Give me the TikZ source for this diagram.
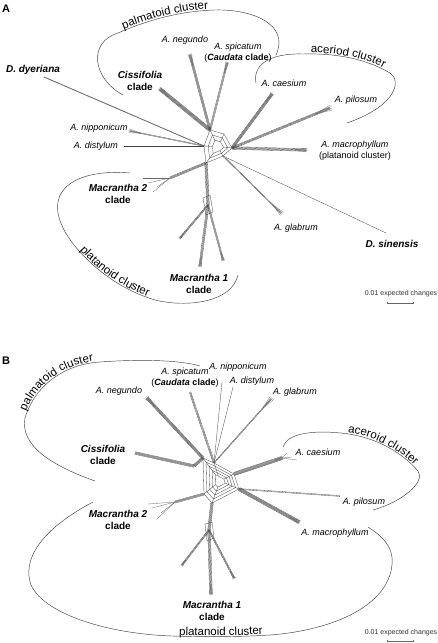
\documentclass[tikz,border=0pt]{standalone}
\usepackage{fontspec}
\setmainfont{Liberation Sans}
\usetikzlibrary{calc}
\usetikzlibrary{arrows.meta}
\usetikzlibrary{decorations.text}

\tikzset{
  split/.style={draw=black!75, line width=0.3pt},
  hull/.style={draw=black!75, line width=0.45pt},
  taxon/.style={font=\fontsize{9}{11}\selectfont\itshape, inner sep=0pt},
  clade/.style={font=\fontsize{10}{12}\selectfont\bfseries, align=center, inner sep=0pt},
  panel/.style={font=\fontsize{11}{13}\selectfont\bfseries, inner sep=0pt},
  scaletxt/.style={font=\fontsize{7}{8}\selectfont, text=black!80, inner sep=0pt},
  scalebar/.style={draw=black!60, line width=0.4pt, {Bar[width=2pt]}-{Bar[width=2pt]}},
}

\begin{document}
\begin{tikzpicture}[x=1pt, y=-1pt]
  \fill[white] (0,0) rectangle (438,643);
  \useasboundingbox (0,0) rectangle (438,643);

  % ---------------- network A ----------------
  \node[panel] (panelA) at (6,9) {A};

  \coordinate (aU) at (210,130);
  \coordinate (aR) at (232,148);
  \coordinate (aE) at (223,156);
  \coordinate (aD) at (206,163);
  \coordinate (aL) at (204,146);
  \coordinate (aM) at (208,205);

  \coordinate (tNegA) at (190,55);
  \coordinate (tSpiA) at (227,63);
  \coordinate (tCisA) at (160,89);
  \coordinate (tCaeA) at (272,94);
  \coordinate (tPilA) at (330,108);
  \coordinate (tMacA) at (306,150);
  \coordinate (tGlaA) at (281,213);
  \coordinate (tSinA) at (386,233);
  \coordinate (tDyeA) at (44,77);
  \coordinate (tNipA) at (130,131);
  \coordinate (tDisA) at (124,146);
  \coordinate (tM2A) at (170,178);
  \coordinate (tM1A) at (200,266);
  \coordinate (tM1Al) at (180,238);
  \coordinate (tM1Ar) at (223,260);

  % reticulation at the centre
  \begin{scope}[shift={(218,147)}]
    \foreach \s in {1,0.7,0.4}
      \draw[split, scale=\s] (-8,-17) -- (6,-13) -- (14,1) -- (5,9) -- (-12,16) -- (-14,-1) -- cycle;
    \foreach \x/\y in {-8/-17, 6/-13, 14/1, 5/9, -12/16, -14/-1}
      \draw[split] (\x,\y) -- (0.4*\x,0.4*\y);
  \end{scope}
  \draw[split] (203,198) -- (210,195) -- (213,212) -- (206,215) -- cycle;

  % ---------------- network B ----------------
  \node[panel] (panelB) at (6,361) {B};

  \coordinate (bUL) at (203,458);
  \coordinate (bU) at (214,463);
  \coordinate (bR) at (234,474);
  \coordinate (bS) at (239,489);
  \coordinate (bD) at (212,503);
  \coordinate (bDL) at (204,494);
  \coordinate (bCk) at (194,466);
  \coordinate (bM) at (209,530);

  \coordinate (tNegB) at (147,398);
  \coordinate (tCisB) at (135,453);
  \coordinate (tSpiB) at (190,392);
  \coordinate (tNipB) at (222,382);
  \coordinate (tDisB) at (233,387);
  \coordinate (tGlaB) at (271,399);
  \coordinate (tCaeB) at (282,458);
  \coordinate (tPilB) at (340,496);
  \coordinate (tMacB) at (299,522);
  \coordinate (tM2B) at (175,502);
  \coordinate (tM1B) at (211,594);
  \coordinate (tM1Bl) at (182,565);
  \coordinate (tM1Br) at (234,578);

  \begin{scope}[shift={(220,481)}]
    \foreach \s in {1,0.82,0.64,0.46,0.28}
      \draw[split, scale=\s] (-17,-23) -- (-6,-18) -- (14,-7) -- (19,8) -- (-8,22) -- (-16,13) -- cycle;
    \foreach \x/\y in {-17/-23, -6/-18, 14/-7, 19/8, -8/22, -16/13}
      \draw[split] (\x,\y) -- (0.28*\x,0.28*\y);
  \end{scope}
  \draw[split] (205,524) -- (212,522) -- (214,538) -- (207,541) -- cycle;

  % bundles of parallel splits
  \foreach \p/\q/\n/\g in {aU/tNegA/4/0.7, aU/tSpiA/3/0.8, aU/tCisA/6/0.65,
      aR/tCaeA/5/0.65, aR/tPilA/4/0.7, aR/tMacA/5/0.65, aE/tGlaA/2/0.7,
      aE/tSinA/1/0.7, aL/tDyeA/2/0.4, aL/tNipA/2/0.7, aL/tDisA/1/0.7,
      aD/tM2A/4/0.7, aD/aM/5/0.65, aM/tM1A/4/0.7, aM/tM1Al/3/0.7, aM/tM1Ar/3/0.7,
      bUL/tNegB/5/0.65, bCk/tCisB/5/0.65, bUL/bCk/5/0.65, bU/tSpiB/3/0.8,
      bU/tNipB/1/0.7, bU/tDisB/1/0.7, bU/tGlaB/2/0.7, bR/tCaeB/6/0.65,
      bS/tPilB/2/0.8, bS/tMacB/6/0.65, bDL/tM2B/4/0.7, bD/bM/5/0.65,
      bM/tM1B/5/0.65, bM/tM1Bl/3/0.7, bM/tM1Br/3/0.7}{
    \foreach \k in {1,...,\n}{
      \pgfmathsetmacro\off{(\k-(\n+1)/2)*\g}
      \draw[split] ($(\p)!\off pt!90:(\q)$) -- ($(\q)!\off pt!-90:(\p)$);
    }
  }

  % fanned tips
  \foreach \p/\q in {aU/tNegA, aU/tSpiA, aU/tCisA, aR/tCaeA, aR/tPilA, aR/tMacA,
      aE/tGlaA, aL/tNipA, aM/tM1A, aM/tM1Al, aM/tM1Ar, bUL/tNegB, bU/tGlaB,
      bR/tCaeB, bS/tMacB, bM/tM1B, bM/tM1Bl, bM/tM1Br}{
    \coordinate (f) at ($(\p)!0.85!(\q)$);
    \foreach \ang in {-9,-3,3,9}
      \draw[split, black!55] (f) -- ($(f)!1.12!\ang:(\q)$);
  }
  \foreach \e in {(143,178), (148,183), (153,192), (157,187)}
    \draw[split, black!60] (tM2A) -- \e;
  \foreach \e in {(148,504), (152,508), (157,519), (161,513)}
    \draw[split, black!60] (tM2B) -- \e;
  \foreach \e in {(287,453), (297,460), (292,457)}
    \draw[split, black!60] (tCaeB) -- \e;

  % cluster outlines, network A
  \draw[hull] (123,95) .. controls (92,78) and (88,42) .. (118,33);
  \draw[hull] (118,33) .. controls (148,20) and (180,11) .. (215,10);
  \path[decorate, decoration={text along path, text align=center, raise=1.2pt,
      text={|\fontsize{11.5}{13}\selectfont|palmatoid cluster}}]
    (118,33) .. controls (148,20) and (180,11) .. (215,10);
  \draw[hull] (215,10) .. controls (252,9) and (290,24) .. (276,55);

  \draw[hull] (256,83) .. controls (252,62) and (275,53) .. (303,54);
  \draw[hull] (303,54) .. controls (333,53) and (365,58) .. (390,73);
  \path[decorate, decoration={text along path, text align=center, raise=1.2pt,
      text={|\fontsize{11.5}{13}\selectfont|aceriod cluster}}]
    (303,54) .. controls (333,53) and (365,58) .. (390,73);
  \draw[hull] (390,73) .. controls (402,81) and (396,106) .. (347,123);

  \draw[hull] (130,173) .. controls (70,168) and (35,195) .. (74,245);
  \draw[hull] (74,245) .. controls (96,272) and (125,291) .. (155,300);
  \path[decorate, decoration={text along path, text align=center, raise=1.2pt,
      text={|\fontsize{11.5}{13}\selectfont|platanoid cluster}}]
    (74,245) .. controls (96,272) and (125,291) .. (155,300);
  \draw[hull] (155,300) .. controls (188,308) and (232,302) .. (238,275);

  % cluster outlines, network B
  \draw[hull] (95,481) .. controls (50,465) and (20,445) .. (25,418);
  \draw[hull] (25,418) .. controls (35,385) and (65,364) .. (100,362);
  \path[decorate, decoration={text along path, text align=center, raise=1.2pt,
      text={|\fontsize{11.5}{13}\selectfont|palmatoid cluster}}]
    (25,418) .. controls (35,385) and (65,364) .. (100,362);
  \draw[hull] (100,362) .. controls (140,359) and (180,360) .. (200,366);

  \draw[hull] (283,447) .. controls (287,434) and (310,430) .. (341,433);
  \draw[hull] (341,433) .. controls (372,436) and (400,450) .. (418,471);
  \path[decorate, decoration={text along path, text align=center, raise=1.2pt,
      text={|\fontsize{11.5}{13}\selectfont|aceroid cluster}}]
    (341,433) .. controls (372,436) and (400,450) .. (418,471);
  \draw[hull] (418,471) .. controls (426,482) and (402,502) .. (373,510);

  \draw[hull] (93,502) .. controls (40,530) and (22,560) .. (31,585);
  \draw[hull] (31,585) .. controls (45,615) and (110,634) .. (172,636);
  \draw[hull] (172,636) .. controls (205,637) and (238,637) .. (270,635);
  \path[decorate, decoration={text along path, text align=center, raise=1.2pt,
      text={|\fontsize{11.5}{13}\selectfont|platanoid cluster}}]
    (172,636) .. controls (205,637) and (238,637) .. (270,635);
  \draw[hull] (270,635) .. controls (335,630) and (388,605) .. (392,565);
  \draw[hull] (392,565) .. controls (394,545) and (380,535) .. (368,527);

  % labels, network A
  \node[clade] (dyeA) at (33,70) {\textit{D. dyeriana}};
  \node[clade] (cisA) at (140,81) {\textit{Cissifolia}\\clade};
  \node[taxon] (negA) at (185,40) {A. negundo};
  \node[taxon, align=center] (spiA) at (238,53) {A. spicatum\\\upshape(\textbf{\textit{Caudata}} \textbf{clade})};
  \node[taxon] (caeA) at (284,83) {A. caesium};
  \node[taxon] (pilA) at (356,100) {A. pilosum};
  \node[taxon, align=center] (macA) at (355,151) {A. macrophyllum\\\upshape(platanoid cluster)};
  \node[taxon] (nipA) at (99,128) {A. nipponicum};
  \node[taxon] (disA) at (96,146) {A. distylum};
  \node[clade] (mtwoA) at (118,194) {\textit{Macrantha 2}\\clade};
  \node[clade] (moneA) at (199,284) {\textit{Macrantha 1}\\clade};
  \node[taxon] (glaA) at (296,228) {A. glabrum};
  \node[clade] (sinA) at (392,244) {\textit{D. sinensis}};
  \node[scaletxt] (scaleA) at (401,294) {0.01 expected changes};
  \coordinate (barAl) at (387,303);
  \coordinate (barAr) at (413,303);
  \draw[scalebar] (barAl) -- (barAr);

  % labels, network B
  \node[taxon, align=center] (spiB) at (185,378) {A. spicatum\\\upshape(\textbf{\textit{Caudata}} \textbf{clade})};
  \node[taxon] (nipB) at (238,367) {A. nipponicum};
  \node[taxon] (disB) at (252,381) {A. distylum};
  \node[taxon] (glaB) at (295,392) {A. glabrum};
  \node[taxon] (negB) at (119,391) {A. negundo};
  \node[clade] (cisB) at (103,455) {\textit{Cissifolia}\\clade};
  \node[taxon] (caeB) at (318,452) {A. caesium};
  \node[taxon] (pilB) at (364,502) {A. pilosum};
  \node[taxon] (macB) at (335,533) {A. macrophyllum};
  \node[clade] (mtwoB) at (118,520) {\textit{Macrantha 2}\\clade};
  \node[clade] (moneB) at (212,611) {\textit{Macrantha 1}\\clade};
  \node[scaletxt] (scaleB) at (401,633) {0.01 expected changes};
  \coordinate (barBl) at (387,641);
  \coordinate (barBr) at (413,641);
  \draw[scalebar] (barBl) -- (barBr);
\end{tikzpicture}
\end{document}
